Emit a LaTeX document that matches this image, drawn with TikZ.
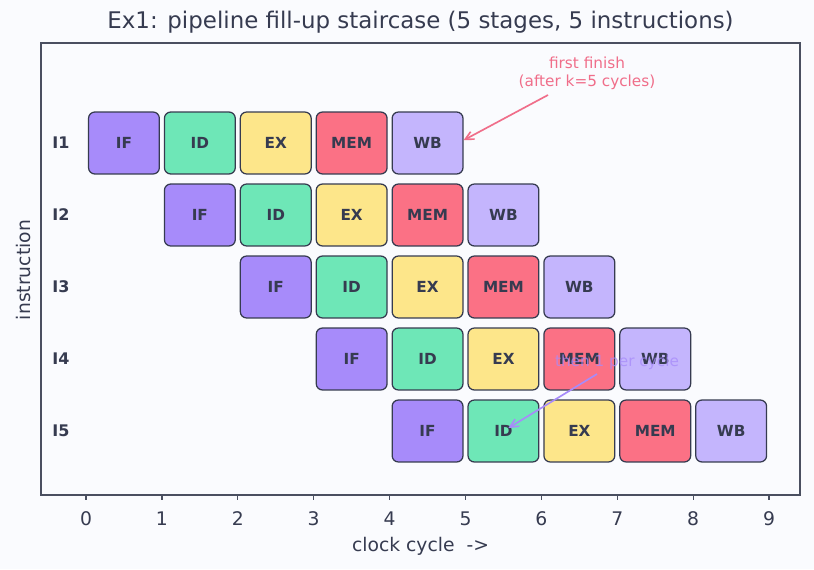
\documentclass[tikz,border=0pt]{standalone}
\usepackage{fontspec}
\setmainfont{DejaVu Sans}
\usetikzlibrary{arrows.meta, positioning, calc}
\definecolor{PageBg}{HTML}{FAFBFE}
\definecolor{InkDark}{HTML}{363B50}
\definecolor{FrameGray}{HTML}{4A4F60}
\definecolor{StageIF}{HTML}{A78BFA}
\definecolor{StageID}{HTML}{6EE7B7}
\definecolor{StageEX}{HTML}{FDE68A}
\definecolor{StageMEM}{HTML}{FB7185}
\definecolor{StageWB}{HTML}{C4B5FD}
\definecolor{NoteRose}{HTML}{F06E8A}
\definecolor{NoteViolet}{HTML}{A78BFA}

\begin{document}
\begin{tikzpicture}[
  x=0.72pt, y=-0.72pt,
  stage/.style={draw=InkDark, rounded corners=4.5pt, line width=0.9pt, minimum width=51pt, minimum height=44.6pt, inner sep=0pt, text=InkDark, font=\bfseries\fontsize{11}{13}\selectfont},
  rowlab/.style={text=InkDark, font=\bfseries\fontsize{11.5}{13}\selectfont},
  ticklab/.style={text=InkDark, font=\fontsize{13.5}{16}\selectfont},
  note/.style={align=center, font=\fontsize{11}{13}\selectfont},
  notearrow/.style={-{Straight Barb[length=6pt, width=6pt]}, line width=1.2pt}
]
  \fill[PageBg] (0,0) rectangle (814,569);
  \useasboundingbox (0,0) rectangle (814,569);

  \node[text=InkDark, font=\fontsize{16.5}{19}\selectfont] (title) at (420.5,22) {Ex1: pipeline fill-up staircase (5 stages, 5 instructions)};

  % staircase of stages
  \foreach \row in {1,...,5} {
    \node[rowlab] (lab\row) at (61,{143+72*(\row-1)}) {I\row};
    \foreach \st/\col [count=\k] in {IF/StageIF, ID/StageID, EX/StageEX, MEM/StageMEM, WB/StageWB} {
      \node[stage, fill=\col] (\st\row) at ({86+75.9*(\row+\k-1.5)},{143+72*(\row-1)}) {\st};
    }
  }

  % axes
  \draw[FrameGray, line width=1pt] (41,43) rectangle (800,495);
  \foreach \t in {0,...,9} {
    \draw[FrameGray, line width=1pt] ({86+75.9*\t},495) -- ++(0,4.5);
    \node[ticklab] (tick\t) at ({86+75.9*\t},519) {\t};
  }
  \node[ticklab] (xlab) at (420.5,546) {clock cycle\ \ ->};
  \node[ticklab, rotate=90] (ylab) at (24,270) {instruction};

  % annotations
  \node[note, text=NoteRose] (firstnote) at (587,73) {first finish\\(after k=5 cycles)};
  \coordinate (firsttail) at (548,95);
  \draw[notearrow, NoteRose] (firsttail) -- ([yshift=2]WB1.east);

  \node[note, text=NoteViolet, opacity=0.75] (ratenote) at (617,362) {then 1 per cycle};
  \coordinate (ratetail) at (597,374);
  \draw[notearrow, NoteViolet] (ratetail) -- ([shift={(5,-3)}]ID5.center);
\end{tikzpicture}
\end{document}
